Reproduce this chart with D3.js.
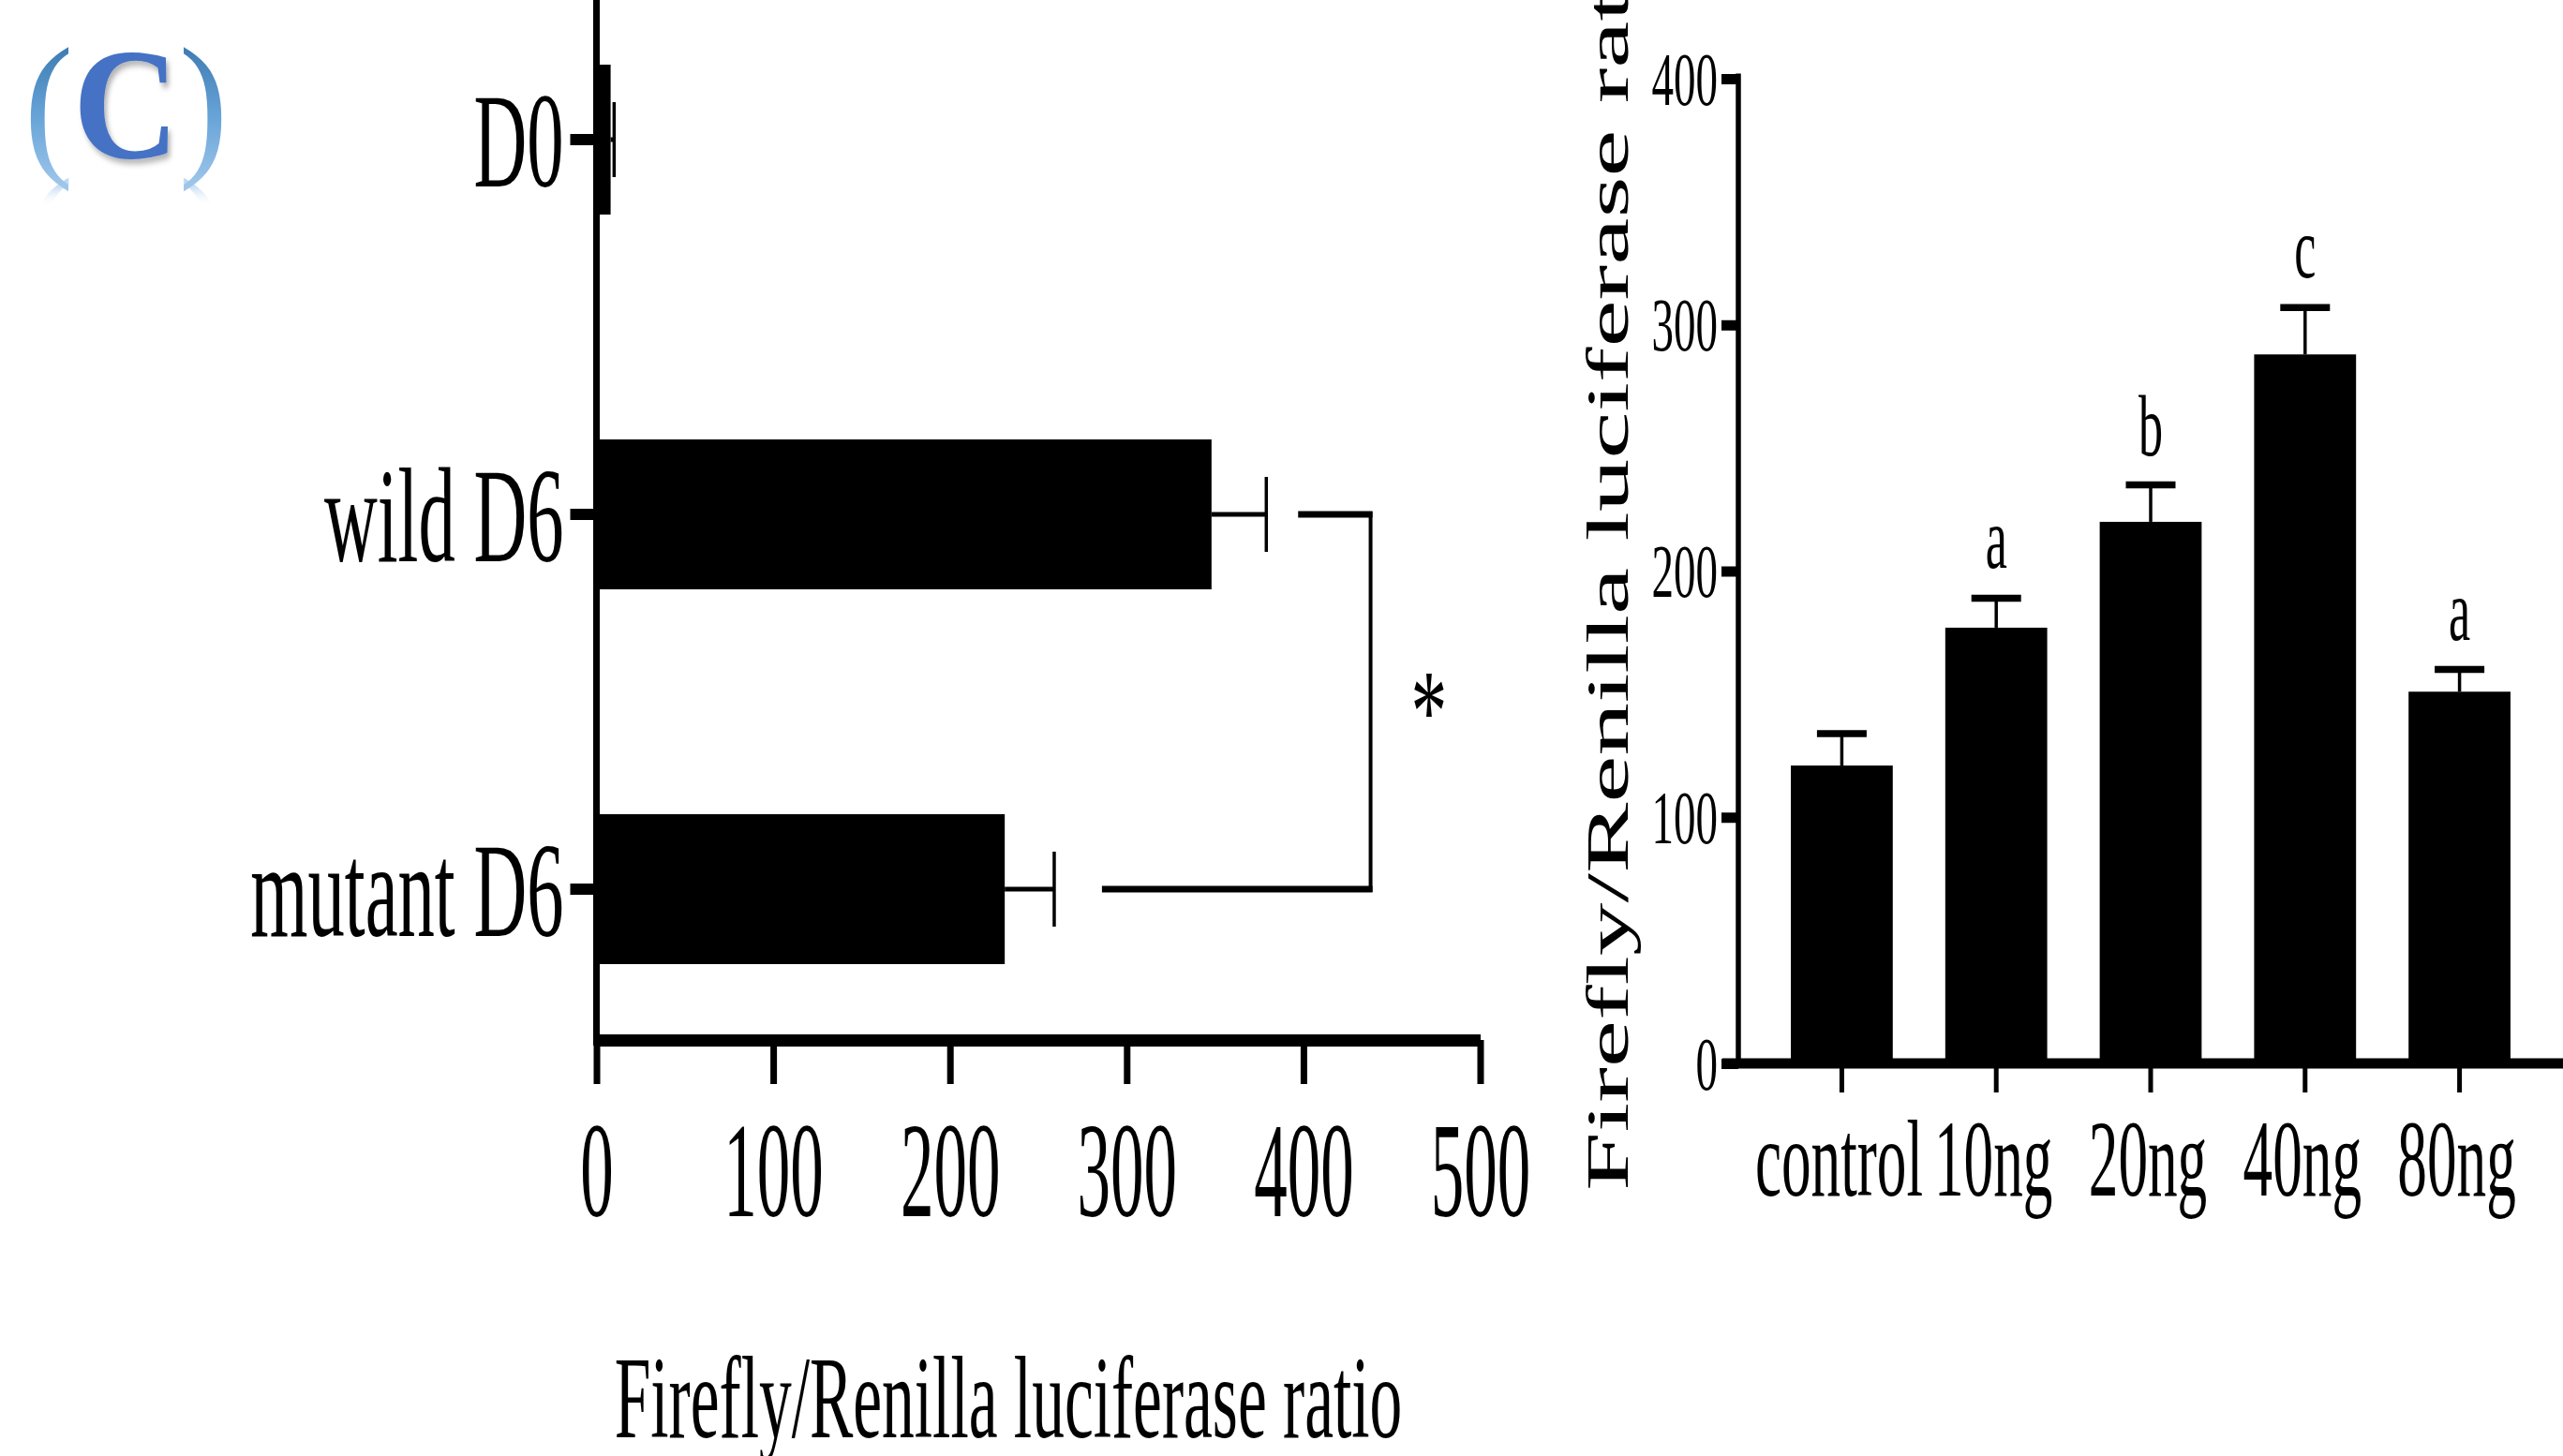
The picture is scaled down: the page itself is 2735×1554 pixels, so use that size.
<!DOCTYPE html>
<html>
<head>
<meta charset="utf-8">
<script src="https://cdn.jsdelivr.net/npm/d3@7"></script>
<style>
  body { margin: 0; background: #fff; }
  text { font-family: 'Liberation Serif', 'Times New Roman', serif; }
</style>
</head>
<body>
<div id="chart"></div>
<script>
// left panel: reporter activity per construct
const constructs = ['D0', 'wild D6', 'mutant D6']
const constructValues = [8, 348, 231]
const constructErrors = [2, 31, 28]
const ratioTicks = [0, 100, 200, 300, 400, 500]

// significance bracket between wild and mutant
const bracketPair = ['wild D6', 'mutant D6']
const bracketArms = [397, 286]
const bracketAt = 438
const bracketMark = '*'
const bracketMarkAt = 471

// right panel: dose response
const doses = ['control', '10ng', '20ng', '40ng', '80ng']
const doseValues = [121, 177, 220, 288, 151]
const doseErrors = [13, 12, 15, 19, 9]
const doseLetters = ['', 'a', 'b', 'c', 'a']
const doseTicks = [0, 100, 200, 300, 400]

const panelLabel = 'C'
const axisTitle = 'Firefly/Renilla luciferase ratio'

function draw(){
    const width = 2735
    const height = 1554

    const svg = d3.select('#chart')
        .append('svg')
        .attr('width', width)
        .attr('height', height)

    svg.append('rect').attr('width', width).attr('height', height).attr('fill', '#fff')

    // the source figure is squashed sideways, so text gets a horizontal scale
    const squeeze = (sel, dx, dy, k) => sel
        .attr('x', 0).attr('y', 0).attr('dy', null)
        .attr('transform', `translate(${dx},${dy}) scale(${k},1)`)

    const defs = svg.append('defs')

    // ---------- panel label (C) ----------
    const parenGrad = defs.append('linearGradient')
        .attr('id', 'parenGrad')
        .attr('gradientUnits', 'userSpaceOnUse')
        .attr('x1', 0).attr('x2', 0).attr('y1', -115).attr('y2', 30)
    parenGrad.append('stop').attr('offset', 0).attr('stop-color', '#3f7db4')
    parenGrad.append('stop').attr('offset', 0.5).attr('stop-color', '#68a4d8')
    parenGrad.append('stop').attr('offset', 1).attr('stop-color', '#9ec6ea')

    const fadeGrad = defs.append('linearGradient')
        .attr('id', 'fadeGrad')
        .attr('gradientUnits', 'userSpaceOnUse')
        .attr('x1', 0).attr('x2', 0).attr('y1', 29).attr('y2', 6)
    fadeGrad.append('stop').attr('offset', 0).attr('stop-color', '#a9cbeb').attr('stop-opacity', 0.75)
    fadeGrad.append('stop').attr('offset', 1).attr('stop-color', '#ffffff').attr('stop-opacity', 0)

    const shadow = defs.append('filter').attr('id', 'cShadow')
        .attr('x', '-20%').attr('y', '-20%').attr('width', '150%').attr('height', '150%')
    shadow.append('feDropShadow')
        .attr('dx', 3).attr('dy', 5).attr('stdDeviation', 3)
        .attr('flood-color', '#000').attr('flood-opacity', 0.3)

    const labelG = svg.append('g').attr('transform', 'translate(26,168) scale(0.92,1)')

    // reflection under the brackets
    const mirror = labelG.append('text')
        .attr('transform', 'translate(0,58) scale(1,-1)')
        .attr('font-size', 170)
        .attr('fill', 'url(#fadeGrad)')
    mirror.append('tspan').text('(')
    mirror.append('tspan').attr('font-weight', 'bold').attr('fill-opacity', 0).text(panelLabel)
    mirror.append('tspan').text(')')

    const label = labelG.append('text').attr('font-size', 170)
    label.append('tspan').attr('fill', 'url(#parenGrad)').text('(')
    label.append('tspan').attr('font-weight', 'bold').attr('fill', '#4472c4')
        .attr('filter', 'url(#cShadow)').text(panelLabel)
    label.append('tspan').attr('fill', 'url(#parenGrad)').text(')')

    // ---------- left panel ----------
    const xL = d3.scaleLinear()
        .domain([0, 500])
        .range([636.5, 1579.5])

    const yL = d3.scaleBand()
        .domain(constructs)
        .range([-51, 1149])
        .paddingInner(0.6)
        .paddingOuter(0.3)

    const axisYL = 1110

    const xAxisL = d3.axisBottom(xL)
        .tickValues(ratioTicks)
        .tickSize(47)
        .tickSizeOuter(0)

    const gxL = svg.append('g')
        .attr('transform', `translate(0,${axisYL})`)
        .call(xAxisL)
    gxL.select('.domain').attr('stroke-width', 13)
    gxL.selectAll('.tick line').attr('stroke-width', 7)
    gxL.selectAll('.tick text')
        .attr('font-size', 145)
        .call(squeeze, 0, 188, 0.49)

    const yAxisL = d3.axisLeft(yL)
        .tickSize(28)
        .tickSizeOuter(0)

    const gyL = svg.append('g')
        .attr('transform', `translate(${xL(0)},0)`)
        .call(yAxisL)
    gyL.select('.domain').remove()
    gyL.selectAll('.tick line').attr('stroke-width', 12)
    gyL.selectAll('.tick text')
        .attr('font-size', 143)
        .call(squeeze, -35, 50, 0.55)
    gyL.append('line')
        .attr('y1', 0).attr('y2', axisYL + 6)
        .attr('stroke', '#000').attr('stroke-width', 7)

    const leftRows = constructs.map((c, i) => ({c, v: constructValues[i], e: constructErrors[i]}))
    const midL = (c) => yL(c) + yL.bandwidth() / 2

    svg.append('g').selectAll('rect')
        .data(leftRows)
        .join('rect')
        .attr('x', xL(0))
        .attr('y', d => yL(d.c))
        .attr('width', d => xL(d.v) - xL(0))
        .attr('height', yL.bandwidth())
        .attr('fill', '#000')

    const errL = svg.append('g').attr('stroke', '#000')
    errL.selectAll('line.stem')
        .data(leftRows)
        .join('line')
        .attr('class', 'stem')
        .attr('x1', d => xL(d.v)).attr('x2', d => xL(d.v + d.e))
        .attr('y1', d => midL(d.c)).attr('y2', d => midL(d.c))
        .attr('stroke-width', 5)
    errL.selectAll('line.cap')
        .data(leftRows)
        .join('line')
        .attr('class', 'cap')
        .attr('x1', d => xL(d.v + d.e)).attr('x2', d => xL(d.v + d.e))
        .attr('y1', d => midL(d.c) - 40).attr('y2', d => midL(d.c) + 40)
        .attr('stroke-width', 3.5)

    // bracket
    const [ya, yb] = bracketPair.map(midL)
    const br = svg.append('g').attr('stroke', '#000')
    br.append('line')
        .attr('x1', xL(bracketArms[0])).attr('x2', xL(bracketAt) + 2)
        .attr('y1', ya).attr('y2', ya).attr('stroke-width', 7)
    br.append('line')
        .attr('x1', xL(bracketArms[1])).attr('x2', xL(bracketAt) + 2)
        .attr('y1', yb).attr('y2', yb).attr('stroke-width', 7)
    br.append('line')
        .attr('x1', xL(bracketAt)).attr('x2', xL(bracketAt))
        .attr('y1', ya - 3).attr('y2', yb + 3).attr('stroke-width', 4)

    svg.append('text')
        .text(bracketMark)
        .attr('text-anchor', 'middle')
        .attr('font-size', 125)
        .call(squeeze, xL(bracketMarkAt), 801, 0.62)

    svg.append('text')
        .text(axisTitle)
        .attr('text-anchor', 'middle')
        .attr('font-size', 124)
        .call(squeeze, 1076, 1534, 0.56)

    // ---------- right panel ----------
    const xR = d3.scaleBand()
        .domain(doses)
        .range([1855, 2735])
        .paddingInner(0.34)
        .paddingOuter(0.34)

    const yR = d3.scaleLinear()
        .domain([0, 400])
        .range([1135, 84])

    const xAxisR = d3.axisBottom(xR)
        .tickSize(31)
        .tickSizeOuter(0)

    const gxR = svg.append('g')
        .attr('transform', `translate(0,${yR(0)})`)
        .call(xAxisR)
    gxR.select('.domain').remove()
    gxR.append('line')
        .attr('x1', xR.range()[0] - 17).attr('x2', width)
        .attr('stroke', '#000').attr('stroke-width', 11)
    gxR.selectAll('.tick line').attr('stroke-width', 5)
    gxR.selectAll('.tick text')
        .attr('font-size', 116)
        .call(squeeze, -3, 141, 0.545)

    const yAxisR = d3.axisLeft(yR)
        .tickValues(doseTicks)
        .tickSize(18)
        .tickSizeOuter(0)

    const gyR = svg.append('g')
        .attr('transform', `translate(${xR.range()[0]},0)`)
        .call(yAxisR)
    gyR.select('.domain').remove()
    gyR.append('line')
        .attr('y1', yR(400) - 5.5).attr('y2', yR(0))
        .attr('stroke', '#000').attr('stroke-width', 5.5)
    gyR.selectAll('.tick line').attr('stroke-width', 11)
    gyR.selectAll('.tick text')
        .attr('font-size', 81)
        .call(squeeze, -22, 27, 0.58)

    const rightRows = doses.map((c, i) => ({c, v: doseValues[i], e: doseErrors[i], l: doseLetters[i]}))
    const midR = (c) => xR(c) + xR.bandwidth() / 2

    svg.append('g').selectAll('rect')
        .data(rightRows)
        .join('rect')
        .attr('x', d => xR(d.c))
        .attr('y', d => yR(d.v))
        .attr('width', xR.bandwidth())
        .attr('height', d => yR(0) - yR(d.v))
        .attr('fill', '#000')

    const errR = svg.append('g').attr('stroke', '#000')
    errR.selectAll('line.stem')
        .data(rightRows)
        .join('line')
        .attr('class', 'stem')
        .attr('x1', d => midR(d.c)).attr('x2', d => midR(d.c))
        .attr('y1', d => yR(d.v)).attr('y2', d => yR(d.v + d.e))
        .attr('stroke-width', 3.5)
    errR.selectAll('line.cap')
        .data(rightRows)
        .join('line')
        .attr('class', 'cap')
        .attr('x1', d => midR(d.c) - 26.5).attr('x2', d => midR(d.c) + 26.5)
        .attr('y1', d => yR(d.v + d.e)).attr('y2', d => yR(d.v + d.e))
        .attr('stroke-width', 7.5)

    svg.append('g').selectAll('text')
        .data(rightRows.filter(d => d.l))
        .join('text')
        .text(d => d.l)
        .attr('text-anchor', 'middle')
        .attr('font-size', 93)
        .each(function(d){
            d3.select(this).call(squeeze, midR(d.c), yR(d.v + d.e) - 32, 0.56)
        })

    // rotated title, letters squashed like the rest of the panel
    svg.append('text')
        .text(axisTitle)
        .attr('font-size', 113)
        .attr('transform', 'translate(1737,1271) scale(0.56,1) rotate(-90)')
}
draw()
</script>
</body>
</html>
